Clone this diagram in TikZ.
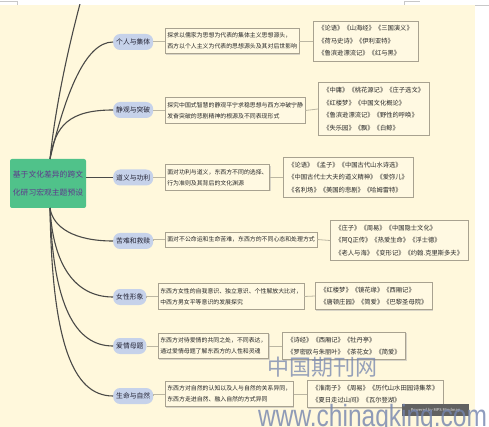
\documentclass[tikz,border=0pt]{standalone}
\usepackage{fontspec}
\setmainfont{Noto Sans CJK SC}
\newfontfamily\wmlat{Liberation Sans}
\usetikzlibrary{shadows}
\definecolor{bgc}{HTML}{FFF8DC}
\definecolor{maingreen}{HTML}{50C28A}
\definecolor{mainpurple}{HTML}{5E3A8C}
\definecolor{catblue}{HTML}{C6D2EA}
\definecolor{cattext}{HTML}{222233}
\definecolor{boxline}{HTML}{A8A290}
\definecolor{boxfill}{HTML}{FFF9E2}
\definecolor{curvec}{HTML}{4A4A48}
\definecolor{linkc}{HTML}{BBB6A2}
\definecolor{wmc}{HTML}{7484AE}
\definecolor{markc}{HTML}{C8C8C8}
\begin{document}
\begin{tikzpicture}[x=1pt,y=-1pt,
  mainbox/.style={fill=maingreen, rounded corners=2pt, text=mainpurple,
    font=\fontsize{7.8}{18}\selectfont, align=center,
    minimum width=76pt, minimum height=49pt, inner sep=0pt},
  catbox/.style={fill=catblue, rounded corners=7pt, text=cattext,
    font=\fontsize{6.8}{8}\selectfont, inner xsep=3pt, inner ysep=0pt,
    minimum height=16pt, anchor=west},
  descbox/.style={draw=boxline, fill=boxfill, line width=0.6pt, text=black!85,
    font=\fontsize{5.9}{11}\selectfont, align=left, inner xsep=2pt,
    inner ysep=4.5pt, anchor=west,
    drop shadow={shadow xshift=1pt, shadow yshift=-1pt, fill=black!30, opacity=.5}},
  bookbox/.style={descbox, font=\fontsize{6.3}{12.5}\selectfont, inner xsep=5pt},
  curve/.style={draw=curvec, line width=1.1pt},
  link/.style={draw=linkc, line width=0.8pt}]
\useasboundingbox (0,0) rectangle (489,427);
\fill[white] (0,0) rectangle (489,427);
\fill[bgc] (0,5) rectangle (475,427);
% page marks
\draw[markc, line width=0.5pt] (0,1.7) -- (17,1.7) -- (17,5);
\draw[markc, line width=0.5pt] (404,5) -- (404,1.7) -- (420,1.7);
\draw[markc, line width=0.5pt] (475,5) -- (489,5);

% main node
\node[mainbox] (m) at (48,183.5) {基于文化差异的跨文\\化研习宏观主题预设};
\coordinate (mt) at (50,159);
\coordinate (mb) at (50,208);
\coordinate (topend) at (88,-25);

% categories
\node[catbox] (c1) at (113,42) {个人与集体};
\node[catbox] (c2) at (113,110) {静观与突破};
\node[catbox] (c3) at (113,177.5) {道义与功利};
\node[catbox] (c4) at (113,241) {苦难和救赎};
\node[catbox] (c5) at (113,297) {女性形象};
\node[catbox] (c6) at (113,346) {爱情母题};
\node[catbox] (c7) at (113,396) {生命与自然};

% curves
\begin{scope}
\clip (0,5) rectangle (475,427);
\draw[curve] (mt) .. controls (56,100) and (72,30) .. (topend);
\end{scope}
\draw[curve] (mt) .. controls (65,95) and (85,42) .. (c1.west);
\draw[curve] (mt) .. controls (55,125) and (70,110) .. (c2.west);
\draw[curve] (c3.west -| m.east) -- (c3.west);
\draw[curve] (mb) .. controls (53,228) and (75,241) .. (c4.west);
\draw[curve] (mb) .. controls (53,265) and (75,297) .. (c5.west);
\draw[curve] (mb) .. controls (53,305) and (75,346) .. (c6.west);
\draw[curve] (mb) .. controls (52,340) and (72,396) .. (c7.west);

% description boxes
\node[descbox] (d1) at (165,41) {探求以儒家为思想为代表的集体主义思想源头，\\西方以个人主义为代表的思想源头及其对后世影响};
\node[descbox] (d2) at (165,110.5) {探究中国式智慧的静观平宁求稳思想与西方冲破宁静\\发奋突破的悲剧精神的根源及不同表现形式};
\node[descbox] (d3) at (165,177.5) {面对功利与道义，东西方不同的选择、\\行为准则及其背后的文化渊源};
\node[descbox] (d4) at (165,239.5) {面对不公命运和生命苦难，东西方的不同心态和处理方式};
\node[descbox] (d5) at (158,296.5) {东西方女性的自我意识、独立意识、个性解放大比对，\\中西方男女平等意识的发展探究};
\node[descbox] (d6) at (158,346) {东西方对待爱情的共同之处，不同表达，\\通过爱情母题了解东西方的人性和灵魂};
\node[descbox] (d7) at (165,394) {东西方对自然的认知以及人与自然的关系异同，\\东西方走进自然、融入自然的方式异同};

% book boxes
\node[bookbox] (b1) at (313,41) {《论语》《山海经》《三国演义》\\《荷马史诗》《伊利亚特》\\《鲁滨逊漂流记》《红与黑》};
\node[bookbox] (b2) at (318,109) {《中庸》《桃花源记》《庄子选文》\\《红楼梦》《中国文化概论》\\《鲁滨逊漂流记》《野性的呼唤》\\《失乐园》《飘》《白鲸》};
\node[bookbox] (b3) at (283,177.5) {《论语》《孟子》《中国古代山水诗选》\\《中国古代士大夫的道义精神》《爱弥儿》\\《名利场》《美国的悲剧》《哈姆雷特》};
\node[bookbox] (b4) at (330,240.5) {《庄子》《周易》《中国隐士文化》\\《阿Q正传》《热爱生命》《浮士德》\\《老人与海》《变形记》《约翰.克里斯多夫》};
\node[bookbox] (b5) at (315,296) {《红楼梦》《镜花缘》《西厢记》\\《唐顿庄园》《简爱》《巴黎圣母院》};
\node[bookbox] (b6) at (282,346) {《诗经》《西厢记》《牡丹亭》\\《罗密欧与朱丽叶》《茶花女》《简爱》};
\node[bookbox] (b7) at (307,394) {《淮南子》《周易》《历代山水田园诗集萃》\\《夏日走过山间》《瓦尔登湖》};

% links
\foreach \i in {1,...,7}{
  \draw[link] (c\i.east) -- (d\i.west -| c\i.east) -- (d\i.west);
  \draw[link] (d\i.east) -- (b\i.west);
}

% powered-by badge
\node[fill=black!62, text=white!90!black, font=\fontsize{4}{5}\selectfont,
  minimum width=67pt, minimum height=12pt, inner sep=0pt] (pw) at (435.5,410) {Powered by MPS Mindmap};

% watermark
\node[text=wmc, opacity=.75, font=\fontsize{22}{24}\selectfont, inner sep=0pt] (wm1) at (322,367) {中国期刊网};
\node[text=wmc, opacity=.8, font=\wmlat\fontsize{24.5}{26}\selectfont, inner sep=0pt, anchor=base west] (wm2) at (258,426) {\scalebox{1}[1.25]{www.chinaqking.com}};
\end{tikzpicture}
\end{document}
